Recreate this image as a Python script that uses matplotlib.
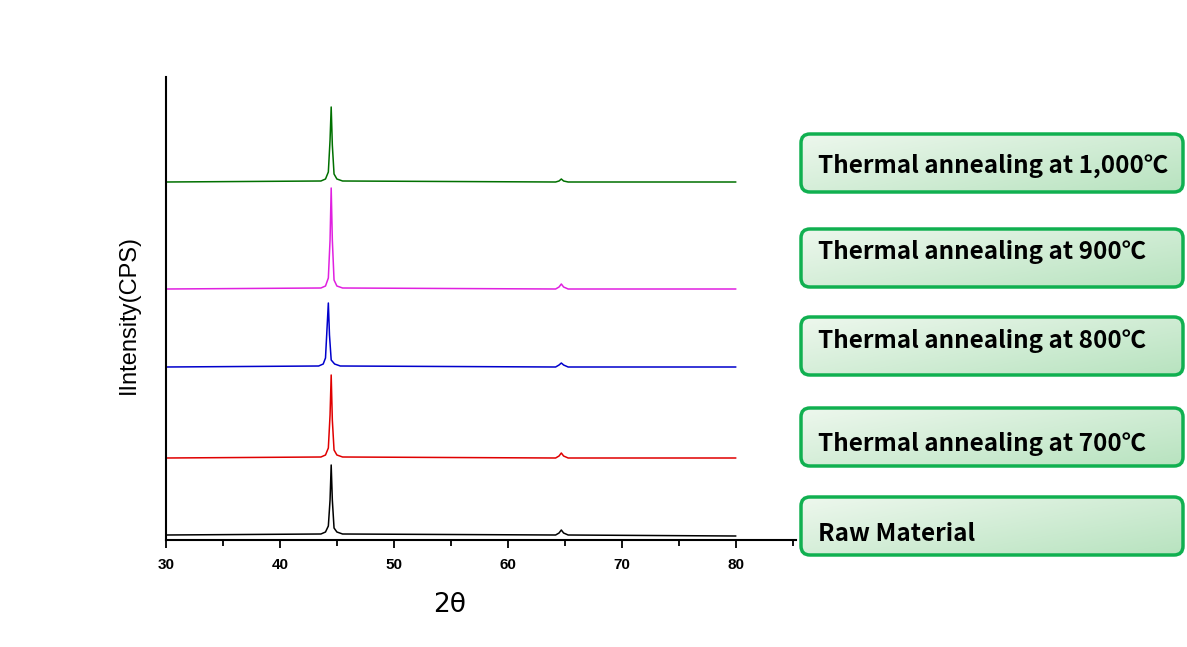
import numpy as np
import matplotlib
matplotlib.use("Agg")
import matplotlib.pyplot as plt
from matplotlib.patches import FancyBboxPatch

# XRD traces, 2theta vs stacked intensity (arbitrary units, offset already applied)
two_theta = [30, 43.6, 44.0, 44.25, 44.4, 44.5, 44.6, 44.75, 45.0, 45.5, 64.2, 64.5, 64.7, 64.9, 65.3, 80]
raw_vals   = [5, 6, 8, 14, 40, 75, 40, 12, 8, 6, 5, 7, 10, 7, 5, 4]
t700_vals  = [82, 83, 85, 92, 125, 165, 120, 90, 85, 83, 82, 84, 87, 84, 82, 82]
t900_vals  = [251, 252, 254, 262, 300, 352, 300, 260, 254, 252, 251, 253, 256, 253, 251, 251]
t1000_vals = [358, 359, 361, 368, 400, 433, 395, 366, 361, 359, 358, 359, 361, 359, 358, 358]
# 800 C peak sits slightly lower in 2theta
two_theta_800 = [30, 43.4, 43.8, 44.0, 44.15, 44.25, 44.35, 44.5, 44.8, 45.3, 64.2, 64.5, 64.7, 64.9, 65.3, 80]
t800_vals  = [173, 174, 176, 182, 215, 237, 205, 180, 176, 174, 173, 175, 177, 175, 173, 173]

series = [
    (two_theta, raw_vals, "black"),
    (two_theta, t700_vals, "#e00000"),
    (two_theta_800, t800_vals, "#0000cc"),
    (two_theta, t900_vals, "#e020e0"),
    (two_theta, t1000_vals, "#007000"),
]

labels = ["Thermal annealing at 1,000\u2103", "Thermal annealing at 900\u2103",
          "Thermal annealing at 800\u2103", "Thermal annealing at 700\u2103",
          "Raw Material"]
x_ticks = [30, 40, 50, 60, 70, 80]

W, H = 1187, 647
fig = plt.figure(figsize=(W / 100, H / 100), dpi=100)
ax = fig.add_axes([166 / W, 1 - 540 / H, (796 - 166) / W, (540 - 77) / H])

for xs, ys, c in series:
    ax.plot(xs, ys, color=c, lw=1.1)

ax.set_xlim(30, 85.3)
ax.set_ylim(0, 463)
ax.set_xticks(x_ticks)
ax.set_xticks([35, 45, 55, 65, 75, 85], minor=True)
ax.set_xticklabels([str(t) for t in x_ticks], fontsize=11, fontweight="bold",
                   family="Liberation Sans")
ax.tick_params(axis="x", which="major", length=6, width=1.3, direction="out", pad=7)
ax.tick_params(axis="x", which="minor", length=4, width=1.3, direction="out")
ax.set_yticks([])
for s in ["top", "right"]:
    ax.spines[s].set_visible(False)
for s in ["left", "bottom"]:
    ax.spines[s].set_linewidth(1.5)

fig.text(450 / W, 1 - 605 / H, "2\u03b8", fontsize=19, ha="center", va="center",
         family="DejaVu Sans")
fig.text(129 / W, 1 - 315 / H, "IIntensity(CPS)", fontsize=17, rotation=90,
         ha="center", va="center", family="Liberation Sans")

# legend boxes drawn in pixel coordinates
ov = fig.add_axes([0, 0, 1, 1])
ov.set_xlim(0, W)
ov.set_ylim(H, 0)
ov.axis("off")

boxes_top = [134, 229, 317, 408, 497]
text_y = [166, 252, 341, 444, 534]
bx0, bx1, bh = 801, 1183, 58

grad = np.zeros((50, 100, 3))
c0 = np.array([0.93, 0.97, 0.93])
c1 = np.array([0.72, 0.89, 0.75])
for i in range(50):
    for j in range(100):
        t = 0.55 * j / 99 + 0.45 * i / 49
        grad[i, j] = c0 * (1 - t) + c1 * t

for top, ty, lab in zip(boxes_top, text_y, labels):
    patch = FancyBboxPatch((bx0, top), bx1 - bx0, bh,
                           boxstyle="round,pad=0,rounding_size=9",
                           fc="none", ec="#10b050", lw=2.5, zorder=3)
    ov.add_patch(patch)
    im = ov.imshow(grad, extent=[bx0, bx1, top + bh, top], aspect="auto", zorder=2)
    im.set_clip_path(patch)
    ov.text(818, ty, lab, fontsize=17.5, fontweight="bold", va="center", ha="left",
            family=["Noto Sans CJK KR", "DejaVu Sans"], zorder=4)

ov.set_xlim(0, W)
ov.set_ylim(H, 0)

fig.savefig("out.png", dpi=100)
